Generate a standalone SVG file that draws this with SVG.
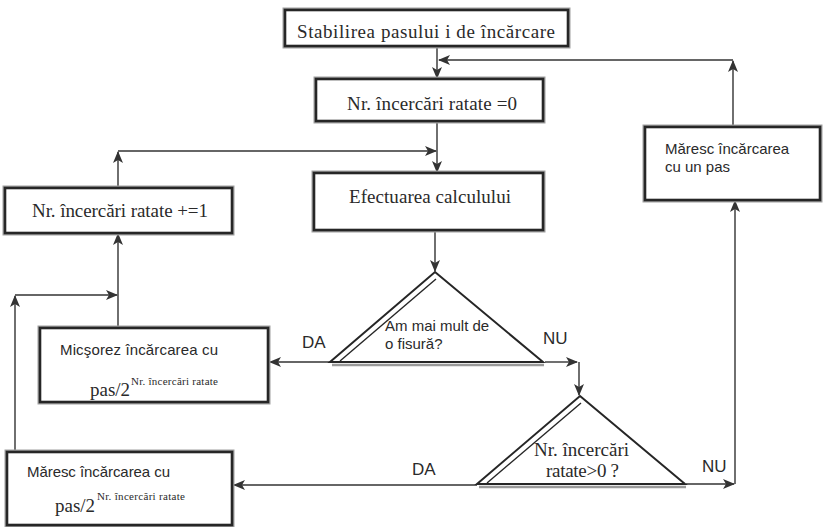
<svg xmlns="http://www.w3.org/2000/svg" width="837" height="527" viewBox="0 0 837 527">
<defs>
<style>
.sh{fill:none;stroke:#a0a0a0;stroke-width:5}
.bx{fill:#fff;stroke:#262626;stroke-width:2.6}
.tri{fill:#fff;stroke:#262626;stroke-width:2;stroke-linejoin:miter}
.in{fill:none;stroke:#262626;stroke-width:1.4}
.ul{fill:none;stroke:#9a9a9a;stroke-width:2.5}
.c{fill:none;stroke:#333;stroke-width:1.4;marker-end:url(#ah)}
.se{font-family:"Liberation Serif","Times New Roman",serif;font-size:19px;fill:#2a2a2a}
.sa{font-family:"Liberation Sans",Arial,sans-serif;font-size:15px;fill:#2a2a2a}
.lb{font-family:"Liberation Sans",Arial,sans-serif;font-size:17px;fill:#2a2a2a}
.sup{font-family:"Liberation Serif","Times New Roman",serif;font-size:11px;fill:#2a2a2a}
</style>
<marker id="ah" viewBox="0 0 12 10" refX="11" refY="5" markerWidth="12" markerHeight="10" markerUnits="userSpaceOnUse" orient="auto">
<path d="M0,0 L12,5 L0,10 L3,5 Z" fill="#333"/>
</marker>
</defs>
<rect width="837" height="527" fill="#fff"/>

<g id="connectors">
<path class="c" d="M437,47 L437,78"/>
<path class="c" d="M437,122 L437,172"/>
<path class="c" d="M733,127 L733,61"/>
<path class="c" d="M733,60 L439,60"/>
<path class="c" d="M118,188 L118,152"/>
<path class="c" d="M118,151 L436,151"/>
<path class="c" d="M435,231 L435,271"/>
<path class="c" d="M330,362 L270,362"/>
<path class="c" d="M545,362 L577,362"/>
<path class="c" d="M579,362 L579,395"/>
<path class="c" d="M118,328 L118,234"/>
<path class="c" d="M15,452 L15,296"/>
<path class="c" d="M15,295 L117,295"/>
<path class="c" d="M477,485 L234,485"/>
<path class="c" d="M686,484 L734,484"/>
<path class="c" d="M735,484 L735,201"/>
</g>

<g id="n_stabilirea">
<rect class="sh" x="285" y="10" width="283" height="36"/>
<rect class="bx" x="285" y="10" width="283" height="36"/>
<text class="se" x="297" y="38" textLength="258" lengthAdjust="spacing">Stabilirea pasului i de încărcare</text>
</g>

<g id="n_ratate0">
<rect class="sh" x="316" y="79" width="227" height="42"/>
<rect class="bx" x="316" y="79" width="227" height="42"/>
<text class="se" x="347" y="110" textLength="170" lengthAdjust="spacing">Nr. încercări ratate =0</text>
</g>

<g id="n_efectuarea">
<rect class="sh" x="314" y="173" width="229" height="57"/>
<rect class="bx" x="314" y="173" width="229" height="57"/>
<text class="se" x="349" y="203" textLength="162" lengthAdjust="spacing">Efectuarea calculului</text>
</g>

<g id="n_ratate1">
<rect class="sh" x="5" y="188" width="227" height="45"/>
<rect class="bx" x="5" y="188" width="227" height="45"/>
<text class="se" x="32" y="217" textLength="176" lengthAdjust="spacing">Nr. încercări ratate +=1</text>
</g>

<g id="n_marescpas">
<rect class="sh" x="645" y="127" width="175" height="73"/>
<rect class="bx" x="645" y="127" width="175" height="73"/>
<text class="sa" x="665" y="154">Măresc încărcarea</text>
<text class="sa" x="665" y="172">cu un pas</text>
</g>

<g id="n_micsorez">
<rect class="sh" x="40" y="328" width="228" height="74"/>
<rect class="bx" x="40" y="328" width="228" height="74"/>
<text class="sa" x="60" y="355" textLength="158" lengthAdjust="spacing">Micşorez încărcarea cu</text>
<text class="se" x="90" y="396">pas/2</text>
<text class="sup" x="131" y="385" textLength="87" lengthAdjust="spacing">Nr. încercări ratate</text>
</g>

<g id="n_maresc">
<rect class="sh" x="7" y="452" width="225" height="73"/>
<rect class="bx" x="7" y="452" width="225" height="73"/>
<text class="sa" x="27" y="477" textLength="143" lengthAdjust="spacing">Măresc încărcarea cu</text>
<text class="se" x="55" y="512">pas/2</text>
<text class="sup" x="97" y="500" textLength="88" lengthAdjust="spacing">Nr. încercări ratate</text>
</g>

<g id="n_decizie1">
<line class="ul" x1="332" y1="365" x2="544" y2="365"/>
<polygon class="tri" points="435,272 543,362 330,362"/>
<line class="in" x1="340" y1="361" x2="436" y2="279"/>
<text class="sa" x="385" y="331">Am mai mult de</text>
<text class="sa" x="385" y="349">o fisură?</text>
</g>

<g id="n_decizie2">
<line class="ul" x1="479" y1="487" x2="686" y2="487"/>
<polygon class="tri" points="580,396 685,484 477,484"/>
<line class="in" x1="487" y1="483" x2="581" y2="403"/>
<text class="se" x="534" y="456" textLength="95" lengthAdjust="spacing">Nr. încercări</text>
<text class="se" x="546" y="477" textLength="73" lengthAdjust="spacing">ratate&gt;0 ?</text>
</g>

<g id="labels">
<text class="lb" x="302" y="348">DA</text>
<text class="lb" x="543" y="344">NU</text>
<text class="lb" x="412" y="475">DA</text>
<text class="lb" x="702" y="472">NU</text>
</g>
</svg>
